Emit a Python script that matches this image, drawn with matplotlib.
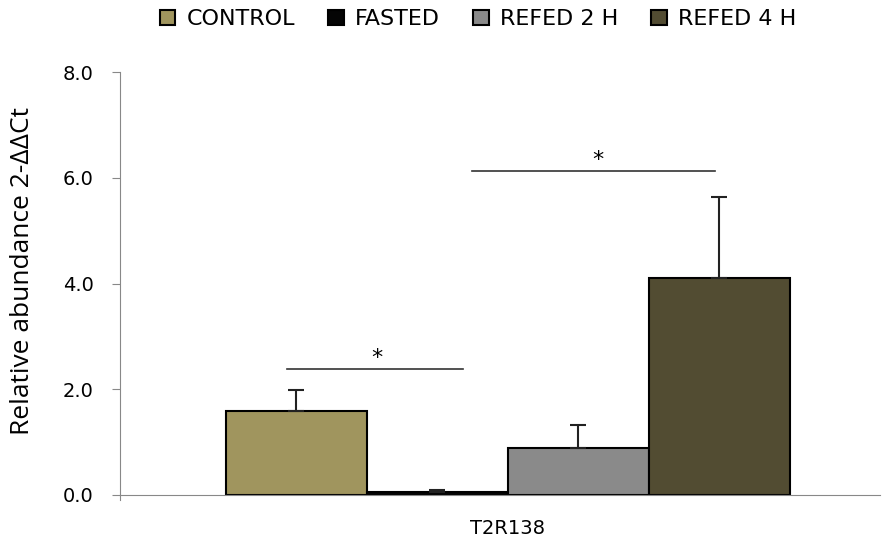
import numpy as np
import matplotlib.pyplot as plt

groups = ["CONTROL", "FASTED", "REFED 2 H", "REFED 4 H"]
means = [1.59, 0.05, 0.89, 4.10]
errs = [0.39, 0.04, 0.43, 1.53]
colors = ["#a0955e", "#050505", "#8a8a8a", "#524c32"]
gene = "T2R138"
yticks = [0, 2, 4, 6, 8]

fig = plt.figure(figsize=(8.85, 5.44), dpi=100)
ax = fig.add_axes([0.1356, 0.0901, 0.859, 0.7775])

x = np.arange(len(groups))
for i in range(len(groups)):
    ax.bar(x[i], means[i], width=1.0, color=colors[i], edgecolor="black",
           linewidth=1.5, label=groups[i], zorder=2)
    ax.errorbar(x[i], means[i], yerr=[[0], [errs[i]]], fmt="none",
                ecolor="#222222", elinewidth=1.5, capsize=6, capthick=1.5, zorder=3)

# significance brackets
ax.plot([-0.065, 1.18], [2.38, 2.38], color="#333333", lw=1.2)
ax.text(0.57, 2.40, "*", ha="center", va="bottom", fontsize=16)
ax.plot([1.25, 2.97], [6.12, 6.12], color="#333333", lw=1.2)
ax.text(2.14, 6.14, "*", ha="center", va="bottom", fontsize=16)

ax.set_xlim(-1.248, 4.14)
ax.set_ylim(0, 8)
ax.set_yticks(yticks)
ax.set_yticklabels(["%.1f" % t for t in yticks], fontsize=14, family="DejaVu Sans")
ax.set_xticks([1.5])
ax.set_xticklabels([gene], fontsize=14, family="DejaVu Sans")
ax.tick_params(axis="x", length=0, pad=17)
ax.tick_params(axis="y", length=6, color="#888888", direction="out", pad=13)
for s in ["top", "right"]:
    ax.spines[s].set_visible(False)
ax.spines["left"].set_color("#888888")
ax.spines["bottom"].set_color("#888888")
ax.spines["left"].set_bounds(-0.1, 8)
ax.set_ylabel("Relative abundance 2-ΔΔCt", fontsize=19, family="Open Sans")
ax.yaxis.set_label_coords(-0.112, 0.53)

ax.legend(loc="center", bbox_to_anchor=(0.471, 1.125), ncol=4, frameon=False,
          prop={"family": "DejaVu Sans", "size": 16}, handlelength=0.7,
          handleheight=0.7, handletextpad=0.5, columnspacing=1.5)

fig.savefig("out.png", dpi=100)
